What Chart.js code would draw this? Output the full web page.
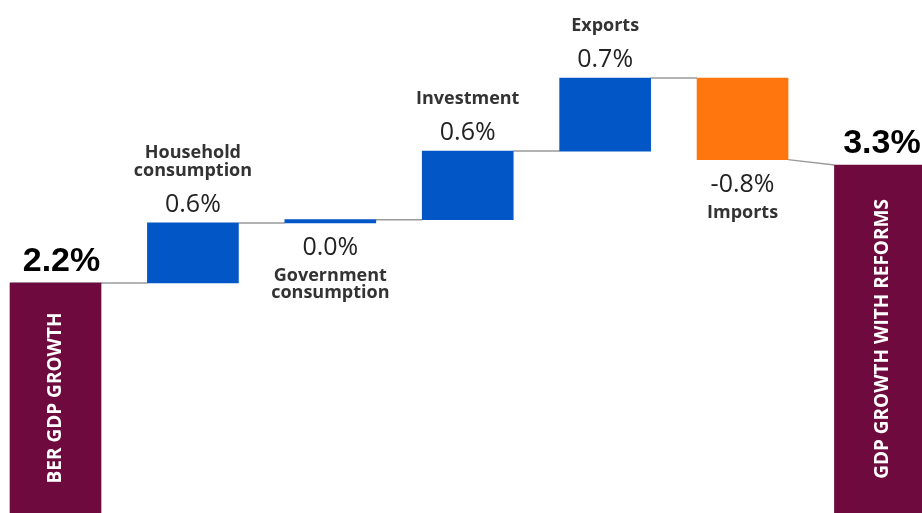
<!DOCTYPE html>
<html>
<head>
<meta charset="utf-8">
<script src="https://cdn.jsdelivr.net/npm/chart.js@4"></script>
<style>
  body { margin: 0; background: #fff; }
  #wrap { width: 922px; height: 513px; position: relative; }
</style>
</head>
<body>
<div id="wrap"><canvas id="myChart"></canvas></div>
<script>
// waterfall: first and last are totals, the rest are contributions (pp)
const categories = ['BER GDP GROWTH', 'Household\nconsumption', 'Government\nconsumption', 'Investment', 'Exports', 'Imports', 'GDP GROWTH WITH REFORMS']
const contributions = [2.2, 0.56, 0.03, 0.64, 0.68, -0.76, 3.3]
const valueLabels = ['2.2%', '0.6%', '0.0%', '0.6%', '0.7%', '-0.8%', '3.3%']
const isTotal = [true, false, false, false, false, false, true]

const maroon = '#6E0A3D'
const blue = '#0356C6'
const orange = '#FF760F'
const barHalf = 0.331

let running = 0
let floats = []
let levels = []
contributions.forEach(function (v, i) {
  if (isTotal[i]) {
    floats.push([0, v])
    running = v
  } else {
    floats.push([running, running + v])
    running = running + v
  }
  levels.push(running)
})

let barData = floats.map(function (f, i) { return { x: i, y: f } })
let barColors = contributions.map(function (v, i) {
  if (isTotal[i]) return maroon
  return v < 0 ? orange : blue
})

// connector lines between bars
let connectors = []
for (let i = 0; i < categories.length - 1; i++) {
  let yEnd = isTotal[i + 1] ? contributions[i + 1] : levels[i]
  connectors.push({
    type: 'line',
    data: [
      { x: i === 0 ? i - barHalf : i + barHalf, y: levels[i] },
      { x: i + 1 - barHalf, y: yEnd }
    ],
    borderColor: '#9a9a9a',
    borderWidth: 1.5,
    pointRadius: 0,
    fill: false,
    order: 2
  })
}

const labelPlugin = {
  id: 'waterfallLabels',
  afterDatasetsDraw(chart) {
    const ctx = chart.ctx
    const x = chart.scales.x
    const y = chart.scales.y
    const area = chart.chartArea
    ctx.save()
    ctx.textAlign = 'center'
    ctx.textBaseline = 'alphabetic'
    categories.forEach(function (name, i) {
      const cx = x.getPixelForValue(i)
      const top = y.getPixelForValue(Math.max(floats[i][0], floats[i][1]))
      const bottom = y.getPixelForValue(Math.min(floats[i][0], floats[i][1]))
      if (isTotal[i]) {
        ctx.fillStyle = '#000'
        ctx.font = 'bold 34px "Liberation Sans", Arial, sans-serif'
        ctx.fillText(valueLabels[i], cx + (i === 0 ? 6 : 2), top - 12)
        // vertical name inside the bar
        const midY = (top + area.bottom) / 2
        ctx.save()
        ctx.translate(cx + (i === 0 ? 0 : 3), midY)
        ctx.rotate(-Math.PI / 2)
        ctx.fillStyle = '#fff'
        ctx.font = 'bold 19px "Open Sans", sans-serif'
        ctx.textBaseline = 'middle'
        ctx.fillText(name, 0, 0)
        ctx.restore()
        return
      }
      const lines = name.split('\n')
      if (contributions[i] >= 0.1) {
        ctx.fillStyle = '#222'
        ctx.font = '25px "Open Sans", sans-serif'
        ctx.fillText(valueLabels[i], cx, top - 11)
        ctx.fillStyle = '#333'
        ctx.font = 'bold 18px "Open Sans", sans-serif'
        for (let k = lines.length - 1, yy = top - 47; k >= 0; k--, yy -= 18) {
          ctx.fillText(lines[k], cx, yy)
        }
      } else {
        ctx.fillStyle = '#222'
        ctx.font = '25px "Open Sans", sans-serif'
        ctx.fillText(valueLabels[i], cx, bottom + 32)
        ctx.fillStyle = '#333'
        ctx.font = 'bold 18px "Open Sans", sans-serif'
        for (let k = 0, yy = bottom + 58; k < lines.length; k++, yy += 17) {
          ctx.fillText(lines[k], cx, yy)
        }
      }
    })
    ctx.restore()
  }
}

const chartArea = document.getElementById('myChart').getContext('2d')
const myChart = new Chart(chartArea, {
  type: 'bar',
  data: {
    datasets: [{
      label: 'GDP growth',
      data: barData,
      backgroundColor: barColors,
      borderWidth: 0,
      barThickness: 91,
      order: 1
    }].concat(connectors)
  },
  options: {
    responsive: true,
    maintainAspectRatio: false,
    animation: false,
    layout: { padding: 0 },
    scales: {
      x: { type: 'linear', min: -0.404, max: 6.306, offset: false, display: false },
      y: { min: 0.056, max: 4.838, display: false }
    },
    plugins: {
      legend: { display: false },
      tooltip: { enabled: false }
    }
  },
  plugins: [labelPlugin]
})
</script>
</body>
</html>
